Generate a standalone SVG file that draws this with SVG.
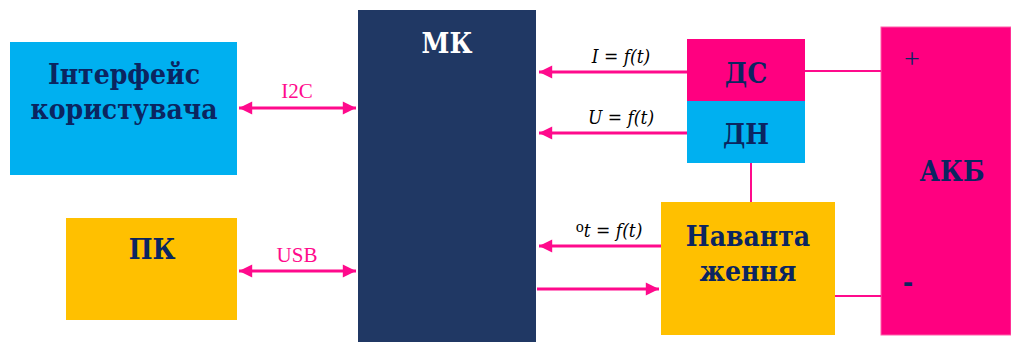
<svg xmlns="http://www.w3.org/2000/svg" width="1011" height="342" viewBox="0 0 1011 342">
<style>
.t{font-family:"DejaVu Serif Condensed","DejaVu Serif",serif;font-weight:bold;fill:#0B2560;text-anchor:middle;font-size:28px}
.l{font-family:"Liberation Serif",serif;fill:#FF0A8C;text-anchor:middle;font-size:21px}
.m{font-family:"DejaVu Serif Condensed","DejaVu Serif",serif;fill:#000;text-anchor:middle;font-size:19px;font-style:italic}
.c{stroke:#FF0A8C;stroke-width:3;fill:none}
.w{stroke:#FF0A8C;stroke-width:2;fill:none}
</style>
<defs>
<marker id="ah" viewBox="0 0 10 10" refX="10" refY="5" markerWidth="5" markerHeight="4.4" orient="auto-start-reverse" markerUnits="strokeWidth">
<path d="M0,0 L10,5 L0,10 z" fill="#FF0A8C"/>
</marker>
</defs>
<rect width="1011" height="342" fill="#fff"/>
<g id="interface"><rect x="10" y="42" width="227" height="133" fill="#00B0F0"/>
<text class="t" x="124" y="84" font-size="27">Інтерфейс</text>
<text class="t" x="124" y="119" font-size="27">користувача</text></g>
<g id="pk"><rect x="66" y="218" width="171" height="102" fill="#FFC000"/>
<text class="t" x="152" y="259">ПК</text></g>
<g id="mk"><rect x="358" y="10" width="178" height="332" fill="#203864"/>
<text class="t" x="447" y="53" style="fill:#fff">МК</text></g>
<g id="ds"><rect x="687" y="39" width="118" height="62" fill="#FF0080"/>
<text class="t" x="746" y="83">ДС</text></g>
<g id="dn"><rect x="687" y="101" width="118" height="62" fill="#00B0F0"/>
<text class="t" x="746" y="144">ДН</text></g>
<g id="load"><rect x="661" y="202" width="174" height="133" fill="#FFC000"/>
<text class="t" x="748" y="246">Наванта</text>
<text class="t" x="748" y="281">ження</text></g>
<g id="akb"><rect x="881" y="27" width="130" height="308" fill="#FF0080" stroke="#FF5FAA" stroke-width="1"/>
<text x="912" y="68" font-size="28" font-family="Liberation Serif,serif" fill="#0B2560" text-anchor="middle">+</text>
<text class="t" x="952" y="181" font-size="29">АКБ</text>
<text class="t" x="908" y="292">-</text></g>
<g id="connectors">
<line class="c" x1="239" y1="108" x2="356" y2="108" marker-start="url(#ah)" marker-end="url(#ah)"/>
<text class="l" x="297" y="98">I2C</text>
<line class="c" x1="239" y1="271" x2="356" y2="271" marker-start="url(#ah)" marker-end="url(#ah)"/>
<text class="l" x="297" y="262">USB</text>
<line class="c" x1="687" y1="72" x2="539" y2="72" marker-end="url(#ah)"/>
<text class="m" x="621" y="63">I = f(t)</text>
<line class="c" x1="687" y1="133" x2="539" y2="133" marker-end="url(#ah)"/>
<text class="m" x="621" y="124">U = f(t)</text>
<line class="c" x1="661" y1="246" x2="539" y2="246" marker-end="url(#ah)"/>
<text class="m" x="609" y="237"><tspan font-style="normal" font-size="15" dy="-5">o</tspan><tspan dy="5">t = f(t)</tspan></text>
<line class="c" x1="537" y1="289" x2="659" y2="289" marker-end="url(#ah)"/>
<line class="w" x1="805" y1="71" x2="881" y2="71"/>
<line class="w" x1="751" y1="163" x2="751" y2="202"/>
<line class="w" x1="835" y1="296" x2="881" y2="296"/>
</g>
</svg>
